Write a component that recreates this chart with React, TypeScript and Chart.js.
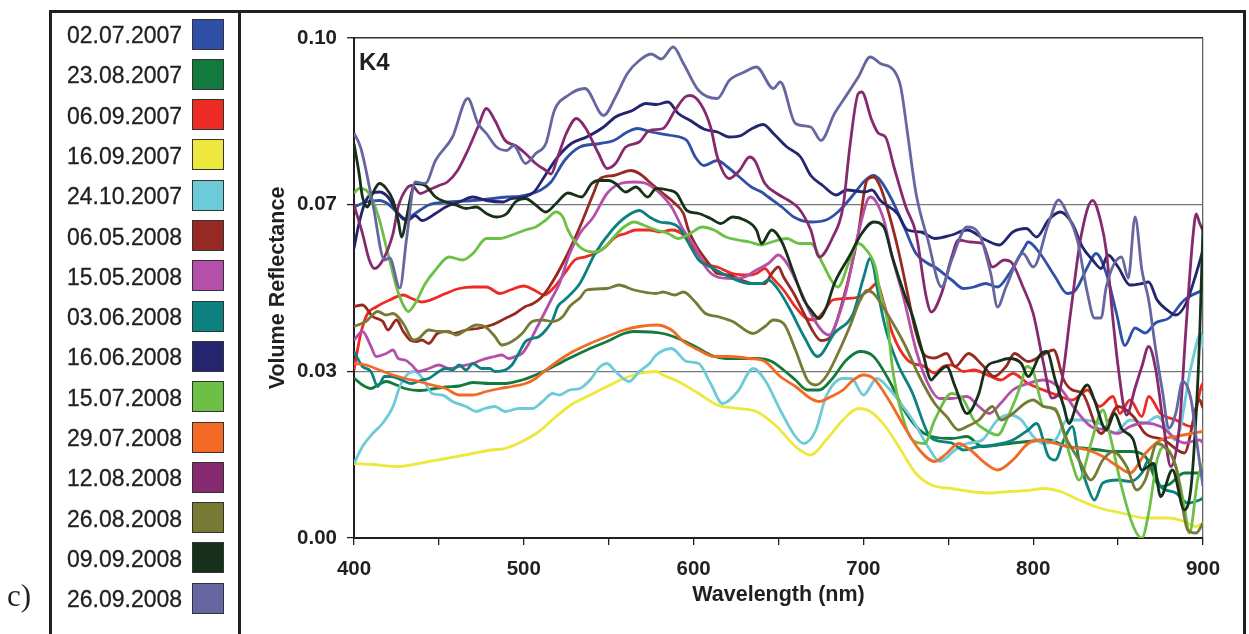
import React, { useEffect, useRef } from "react";
import { Chart, registerables } from "chart.js";

Chart.register(...registerables);

// Legend labels (acquisition dates) and colours
const seriesLabels = [
  "02.07.2007", "23.08.2007", "06.09.2007", "16.09.2007", "24.10.2007",
  "06.05.2008", "15.05.2008", "03.06.2008", "16.06.2008", "15.07.2008",
  "29.07.2008", "12.08.2008", "26.08.2008", "09.09.2008", "26.09.2008",
];
const seriesColors = [
  "#2E50A5", "#127A3C", "#EE2A24", "#EDE83E", "#6DCAD8",
  "#962A22", "#B450AA", "#0D8080", "#24246F", "#6CC046",
  "#F26A24", "#852A6E", "#767A34", "#17301A", "#6667A1",
];

// [wavelength (nm), volume reflectance x 1000]
const r020707 = [[400,66.2],[407,67.2],[415,67.5],[420,66.8],[426,64.9],[430,63.6],[436,64.9],[444,66.6],[454,67.2],[470,67.5],[490,68.2],[500,68.5],[510,69.6],[516,71.2],[524,75.5],[533,78.2],[545,78.9],[553,79.5],[561,81.2],[567,81.9],[575,81.2],[587,80.5],[596,79.5],[601,76.2],[606,74.5],[614,75.5],[620,74.2],[627,72.2],[634,70.2],[640,69.2],[644,68.2],[652,66.2],[659,64.2],[669,63.2],[678,63.6],[685,65.2],[693,68.2],[701,71.5],[706,72.5],[710,71.5],[717,67.5],[724,62.2],[731,56.9],[738,54.9],[742,54.2],[752,51.6],[759,49.9],[765,50.2],[772,50.9],[779,50.2],[786,52.9],[795,58.2],[797,59.2],[804,56.9],[813,52.2],[820,48.9],[825,49.6],[832,54.2],[837,56.9],[843,53],[849,45],[854,38.5],[860,42],[866,41],[872,43],[880,44],[889,47.6],[900,49.6]];
const r230807 = [[400,32],[405,30.6],[410,29.9],[414,30.6],[419,31.3],[425,30.6],[430,29.9],[438,29.5],[446,29.8],[454,30.2],[462,30.4],[470,31.1],[480,30.9],[489,30.9],[499,31.6],[509,32.9],[519,34.6],[529,36.3],[539,37.9],[549,39.3],[559,40.9],[565,41.3],[582,40.9],[591,39.9],[601,38.3],[610,36.6],[619,35.9],[637,35.9],[646,35.3],[653,33.6],[660,31.6],[667,29.6],[674,29.6],[681,31.6],[690,35.6],[698,37.3],[706,36.3],[715,31.6],[724,25.6],[733,21.6],[740,20.3],[752,19.9],[761,20.3],[770,18.3],[779,18.6],[788,19],[797,19.3],[809,19.6],[820,18.3],[829,18],[839,17.6],[848,17.3],[857,17.3],[866,16.3],[875,10.3],[880,10.7],[889,13],[898,13],[900,12.5]];
const r060907 = [[400,33.6],[404,40.9],[408,44.9],[413,46.2],[421,47.6],[429,48.6],[434,47.9],[440,47.2],[445,47.6],[454,48.9],[462,49.9],[470,50.2],[478,50.2],[486,48.9],[492,49.6],[500,50.4],[506,49.6],[512,48.6],[518,50.2],[524,52.9],[530,55.6],[536,56.2],[542,56.9],[548,58.2],[554,60.2],[560,60.9],[566,61.6],[574,61.6],[580,61.2],[587,61.6],[594,60.6],[601,57.5],[607,54.9],[614,54.2],[623,52.9],[633,52.6],[637,52.9],[642,53.9],[646,52.2],[653,49.6],[660,46.2],[666,44],[671,43.6],[676,45],[682,47.6],[690,47.9],[697,48.2],[703,49.5],[708,50.9],[712,47],[717,41],[726,35.6],[736,34.3],[742,33],[747,34.3],[752,34.6],[759,33.3],[765,33.6],[775,32.3],[781,31.6],[788,32.9],[797,30.9],[806,29.6],[816,28.3],[823,27.6],[832,29.6],[839,26.3],[847,28.3],[851,24.9],[857,27.6],[864,24.3],[868,28.3],[875,24.9],[884,23.6],[893,22.3],[899,30.3],[900,31]];
const r160907 = [[400,14.9],[411,14.7],[425,14.3],[438,14.9],[454,15.9],[470,16.9],[481,17.6],[489,17.9],[499,19.3],[509,21.3],[519,24.3],[529,26.9],[539,28.6],[549,30.3],[559,31.9],[568,32.9],[578,33.3],[582,32.6],[591,31.3],[603,28.9],[614,26.6],[626,25.9],[637,25.3],[649,22.3],[660,18.3],[669,16.6],[678,19.6],[688,23.6],[697,25.9],[704,25.3],[713,22.3],[722,17.6],[731,12.9],[740,10.6],[752,9.9],[763,9.3],[775,9],[786,9.3],[797,9.5],[806,9.9],[816,9.3],[827,7.6],[839,6],[852,5],[866,4],[880,4],[889,3.3],[896,2.3],[900,3]];
const r241007 = [[400,14.9],[405,18.3],[411,20.9],[417,23],[423,26.3],[427,30.3],[432,32.9],[436,33.3],[441,31.6],[446,28.9],[452,28.6],[458,27.3],[466,26.3],[472,25.3],[477,25.9],[483,26.3],[489,25.3],[497,25.9],[505,25.9],[511,27.3],[517,28.9],[521,28.6],[527,29.6],[533,29.9],[539,31.6],[545,34.3],[549,34.9],[554,33.3],[562,31.3],[568,33.3],[574,34.9],[578,36.6],[587,37.9],[596,35.3],[603,34.9],[610,30.9],[617,26.9],[626,29.3],[635,33.9],[642,31.6],[651,25.6],[660,20.3],[665,18.9],[672,21.6],[678,28.3],[688,31.9],[693,31.9],[700,28.6],[708,31.9],[715,29.9],[722,26.9],[729,23.6],[738,18.3],[745,15.3],[754,17.6],[761,18.9],[770,19.6],[779,23.6],[786,24.6],[793,23.6],[800,20.3],[806,18.9],[813,19.6],[820,23.6],[829,23.6],[839,22.9],[848,20.9],[857,23.6],[866,23],[873,24.3],[884,19.6],[893,34.3],[899,40.9],[900,38]];
const r060508 = [[400,46.3],[405,46.6],[411,44.3],[417,43.3],[420,41.6],[425,43.6],[429,41.3],[433,39.6],[437,39.3],[440,39.6],[444,38.9],[449,40.9],[454,41.3],[459,40.9],[466,41.6],[473,41.9],[481,42.6],[489,43.9],[495,44.9],[501,46.3],[505,46.8],[510,48],[515,50.2],[524,55.6],[533,62.2],[541,68.9],[545,71.9],[553,72.5],[563,73.5],[568,72.9],[575,70.9],[582,68.9],[589,66.9],[594,64.9],[597,61.6],[602,58.2],[609,54.9],[614,52.9],[621,52.6],[628,51.6],[635,50.9],[642,50.9],[646,52.9],[650,54.2],[653,52.2],[659,48.9],[665,44.9],[670,41.5],[675,39.5],[680,40],[688,47.6],[697,60.9],[702,71.5],[706,72.2],[710,70.2],[715,64.9],[721,56.9],[726,48.9],[731,41],[736,36.6],[742,36],[749,36.9],[754,34.3],[762,36.9],[770,34.6],[777,32.3],[784,34.3],[789,36.9],[797,35.3],[804,36.3],[812,37.6],[818,31.6],[823,29.6],[829,28.9],[840,20.9],[850,26.3],[859,24.3],[866,20.9],[877,19.6],[889,17],[898,27.6],[900,26]];
const r150508 = [[400,39.6],[405,41.3],[410,38.3],[413,36.3],[419,36.9],[423,37.6],[426,35.9],[430,35.6],[434,34.6],[438,33.3],[444,33.9],[450,34.6],[456,33.9],[462,34.3],[470,34.9],[475,35.6],[483,36.3],[487,36.6],[491,35.9],[495,36.3],[499,36.9],[503,38.9],[507,41.6],[512,44.9],[516,47.6],[521,50.9],[527,56.9],[533,60.9],[541,64.2],[549,68.9],[557,70.9],[565,71.2],[572,70.9],[578,69.6],[587,66.2],[594,61.6],[601,58.2],[607,54.2],[614,52.2],[623,51.9],[630,52.2],[637,53.6],[644,54.9],[650,56.6],[655,54.9],[662,50.2],[669,44.9],[676,41.3],[680,40.6],[685,44],[690,49.6],[697,60.9],[704,68.2],[707,67.5],[712,63.6],[717,56.2],[724,47.6],[731,37.6],[738,30.9],[745,27.9],[752,27.9],[761,28.3],[768,26.3],[774,24.9],[781,27],[788,29.6],[797,30.9],[806,31.6],[816,29.9],[825,25.6],[834,22.3],[843,21.6],[850,20.9],[857,22.3],[866,23],[875,22.3],[889,19],[898,19.6],[900,19]];
const r030608 = [[400,37.3],[405,34.3],[410,33.3],[414,30.3],[418,32.3],[422,32.3],[428,31.6],[434,30.9],[440,31.6],[444,31.9],[450,33.3],[454,33.9],[458,33.6],[462,34.6],[466,33.6],[470,34.9],[475,33.9],[480,33.9],[483,33.3],[489,33.6],[493,34.6],[497,36.9],[501,39.3],[505,39.9],[509,40.3],[513,41.6],[517,43.6],[520,46.3],[524,47.6],[533,50.9],[542,56.9],[552,61.6],[560,64.2],[568,65.5],[574,64.2],[580,63.2],[587,62.9],[591,62.2],[596,59.6],[603,55.6],[610,54.2],[617,52.9],[623,51.9],[633,50.9],[640,50.9],[644,51.6],[650,49.6],[657,45.6],[665,40.3],[673,36.3],[683,41],[694,44.9],[700,52],[704,55.9],[706,54.2],[708,50.2],[713,42],[720,35],[729,28.9],[738,20.9],[742,19.6],[752,19],[759,17.6],[768,18.3],[777,18.6],[788,19.6],[797,21.6],[802,22.9],[809,16.3],[813,15.6],[818,19.6],[823,22.3],[827,15.6],[832,10.3],[836,7.6],[841,11],[850,11.6],[857,11.3],[864,13],[868,15.6],[875,10.3],[884,9],[891,7],[898,7.6],[900,8]];
const r160608 = [[400,57.9],[403,63],[407,67.5],[415,69.2],[420,68.2],[426,64.9],[432,63.6],[436,64.5],[440,63.5],[448,64.9],[454,66.2],[462,67.2],[470,68.2],[478,67.5],[488,67.2],[492,67.8],[500,68.2],[506,69.2],[512,72.2],[520,76.2],[528,78.9],[537,80.2],[547,82.2],[554,84.2],[564,85.5],[572,86.9],[578,86.7],[585,87.2],[591,84.9],[598,83.5],[606,81.8],[614,81.2],[621,80.2],[628,80.5],[634,81.8],[641,82.7],[647,80.9],[655,78.2],[663,76.2],[669,72.5],[676,70.5],[684,68.6],[690,69.6],[701,69.2],[705,69.6],[710,67.5],[720,64.9],[726,61.6],[734,61.2],[742,59.9],[752,60.6],[761,61.6],[772,59.6],[780,58.6],[788,61.2],[796,61.9],[802,60.2],[809,63.6],[816,65.2],[823,62.9],[829,58.2],[835,55.6],[840,53.9],[844,56.6],[850,54.2],[857,50.6],[864,50.9],[868,51.2],[873,47.6],[880,45.3],[884,44.6],[890,46.9],[896,52.9],[900,57.6]];
const r150708 = [[400,68.9],[403,69.9],[407,69.6],[411,67.5],[415,63.6],[419,58.2],[422,54.2],[425,50.2],[429,46.6],[432,45.3],[436,46.9],[442,50.9],[448,53.6],[456,56.2],[464,55.6],[470,56.9],[478,59.9],[486,59.9],[493,60.6],[501,61.6],[507,62.2],[513,63.6],[519,65.2],[523,64.2],[526,61.6],[533,58.2],[541,57.2],[547,57.9],[553,60.2],[559,62.2],[565,63.2],[571,62.5],[578,61.6],[585,60.9],[591,59.9],[598,60.9],[605,62.2],[612,61.6],[619,60.2],[626,59.6],[633,59.2],[640,58.6],[646,59.2],[655,59.9],[662,58.9],[669,58.9],[676,54.9],[681,51.6],[685,50.2],[692,55.6],[697,58.9],[701,57.9],[707,54.2],[710,48.9],[714,43.6],[717,34.3],[722,25.6],[729,19.6],[736,18.9],[742,23.6],[752,28.9],[759,27.6],[765,23.6],[772,21.6],[779,20.6],[786,24.9],[793,30.9],[796,34.3],[800,33.3],[806,26.3],[813,25.9],[818,20.9],[823,14.9],[827,11.6],[834,18.9],[841,25.6],[845,20.9],[852,10.3],[859,2.3],[864,0],[868,5],[873,15.6],[877,18.3],[884,14.3],[889,6.3],[892,1],[897,12],[900,15]];
const r290708 = [[400,34.9],[407,34.6],[415,33.6],[423,32.6],[430,31.9],[438,31.3],[446,30.6],[454,29.9],[462,28.6],[470,28.6],[478,29.3],[486,29.9],[493,30.3],[501,30.9],[507,31.9],[513,33.6],[521,35.6],[529,37.3],[539,38.9],[549,40.3],[559,41.6],[568,42.3],[578,42.6],[587,41.6],[594,39.3],[603,37.6],[612,36.3],[621,36.3],[633,35.9],[642,35.3],[651,32.3],[660,30.3],[669,27.9],[674,27.3],[681,28.3],[688,29.6],[694,31.6],[700,32.6],[706,31.9],[715,27.6],[724,22.3],[733,17.6],[742,15.3],[749,16.9],[756,18.9],[763,17.6],[772,14.9],[779,13.6],[788,15.6],[797,18.9],[804,19.6],[813,18.9],[820,18.3],[832,17.6],[841,16.3],[850,14.3],[857,13],[866,16.9],[875,19.6],[884,20.3],[893,20.9],[900,21.3]];
const r120808 = [[400,66.6],[405,60.9],[409,55.6],[412,53.9],[417,55.6],[423,60.9],[426,66.2],[431,69.9],[434,70.5],[439,68.9],[444,69.6],[450,70.5],[455,71.2],[461,73.5],[467,77.5],[473,82.2],[478,85.9],[483,83.5],[489,79.5],[495,78.5],[501,76.9],[507,74.9],[513,73.5],[516,72.8],[520,76.2],[525,80.9],[531,83.9],[536,82.2],[544,76.9],[549,73.9],[554,74.9],[560,78.2],[568,79.2],[574,81.5],[582,81.9],[589,85.5],[595,88.2],[598,88.5],[604,86.9],[610,82.2],[614,76.2],[621,71.9],[627,73.5],[633,76.2],[636,75.5],[642,70.9],[649,68.9],[656,67.5],[662,65.9],[669,61.6],[674,56.2],[682,60.2],[688,66.2],[692,78.2],[697,88.9],[699,89.2],[705,83.5],[709,80.9],[713,80.2],[718,74.2],[725,66.2],[731,60.9],[737,48.2],[740,45.2],[746,48.9],[752,56.2],[756,59.6],[763,59.2],[770,58.9],[776,54.2],[783,55.6],[787,55.2],[794,50.2],[800,44.9],[806,35],[811,28],[816,30],[822,45],[828,60],[835,67.5],[840,63],[843,57.5],[847,43.6],[850,34.3],[855,24.6],[860,30],[864,34.3],[868,38.3],[872,34],[877,22],[881,14.3],[886,22],[890,42],[894,60],[896,64.8],[898,63],[900,61.5]];
const r260808 = [[400,42.3],[407,43.3],[414,45.3],[419,44.6],[423,44.9],[429,42.9],[435,39.6],[438,39.9],[444,41.6],[450,41.3],[456,41.3],[460,40.6],[466,41.6],[472,42.6],[477,42.3],[483,40.3],[487,38.6],[493,39.3],[499,40.9],[505,43.3],[511,43.6],[517,43.3],[523,44.3],[527,46.3],[533,48],[537,49.6],[549,49.9],[556,50.6],[565,49.6],[578,48.9],[582,49.2],[589,48.6],[594,49.2],[601,47.2],[607,44.9],[614,44.3],[623,43.3],[635,40.9],[642,42.3],[647,43.6],[653,42.9],[660,37.6],[667,31.6],[672,30.6],[678,32.3],[685,36.9],[692,42.3],[698,47.5],[702,49.5],[706,48.9],[715,44.3],[724,38.9],[733,32.3],[742,26.9],[749,24.3],[756,21.6],[761,22.3],[768,23.6],[776,26.3],[781,23.6],[788,24.9],[795,26.9],[800,27.6],[806,26.3],[813,25.6],[820,19.6],[827,15.6],[834,11.6],[841,15.6],[847,17.3],[855,14.3],[861,9.6],[866,11.6],[873,18.9],[877,18.3],[884,14.3],[891,1.6],[896,1],[900,3]];
const r090908 = [[400,78.9],[403,72.9],[405,68.2],[408,66.2],[411,68.9],[415,70.9],[419,69.9],[423,67.5],[426,63.6],[428,60.2],[431,64.2],[434,69.2],[436,70.9],[442,70.5],[448,68.2],[454,67.2],[460,66.6],[466,65.9],[472,66.2],[478,64.9],[484,64.2],[490,64.9],[495,67.2],[501,67.9],[507,66.6],[513,65.2],[519,66.9],[526,69],[534,68.2],[540,70.9],[544,71.5],[550,71.5],[554,70.9],[560,69.2],[566,70.2],[573,68.2],[578,69.9],[585,69.6],[590,68.9],[596,65.5],[603,64.9],[610,63.9],[616,62.9],[623,64.2],[630,63.6],[637,61.6],[640,58.9],[646,61.6],[652,59.2],[659,52.9],[665,47.6],[669,45.6],[674,43.9],[678,46],[683,51],[692,56.5],[699,60.9],[706,63.2],[712,62.2],[717,56.2],[724,48.9],[729,44.3],[735,37],[740,31.6],[742,32.3],[749,34.3],[754,30.3],[761,24.9],[768,28.9],[772,33.9],[779,35.3],[786,35.9],[793,34.9],[797,32.3],[804,36.6],[808,37.3],[813,31.6],[818,26.3],[821,22.9],[827,28.3],[832,30.6],[836,27.6],[843,21.6],[848,24.9],[852,21.9],[859,19.6],[864,13.6],[871,14.9],[875,8.3],[882,13.6],[889,5.6],[893,10.3],[896,25],[898,40],[900,62.5]];
const r260908 = [[400,81],[404,78],[411,67],[418,55.6],[421,56],[427,50],[431,60],[436,71.2],[442,70.9],[448,75.5],[458,80.2],[467,87.9],[473,82.9],[478,80.9],[484,78.2],[490,77.5],[494,78.5],[501,74.9],[507,76.9],[513,78.9],[518,85.5],[526,88.5],[536,89.9],[547,84.5],[554,88.2],[561,92.9],[568,95.5],[575,96.8],[581,95.8],[588,98.2],[594,94.9],[603,89.5],[614,87.9],[621,91.5],[630,93.2],[637,94.2],[647,89.9],[651,91.2],[660,82.9],[669,82.2],[675,79.5],[683,84.9],[688,87.5],[697,92.2],[704,96.2],[710,94.9],[718,93.5],[722,90.2],[726,80.9],[731,68.9],[738,59.6],[746,50.2],[752,55.6],[761,62.2],[768,60.9],[775,52.9],[779,46.2],[784,50.2],[794,56.9],[800,54.2],[809,62.9],[815,67.6],[820,64.9],[826,59.6],[832,48.9],[836,44],[840,44],[843,50.2],[852,56.2],[856,52],[860,64.2],[864,53.6],[868,47.6],[872,38],[876,29.6],[880,22],[884,25],[888,31.3],[893,27.6],[896,20],[900,10.3]];

const seriesPoints = [
  r020707, r230807, r060907, r160907, r241007,
  r060508, r150508, r030608, r160608, r150708,
  r290708, r120808, r260808, r090908, r260908,
];

const xTickLabels = [400, 500, 600, 700, 800, 900];
const yTickLabels = ["0.00", "0.03", "0.07", "0.10"];

const SANS = '"Liberation Sans", Arial, Helvetica, sans-serif';
const INK = "#231f20";

export default function App() {
  const canvasRef = useRef<HTMLCanvasElement | null>(null);

  useEffect(() => {
    const canvas = canvasRef.current;
    if (!canvas) return;
    const tickFont = { family: SANS, size: 20.5, weight: "bold" as const };
    const titleFont = { family: SANS, size: 21.5, weight: "bold" as const };
    const chart = new Chart(canvas, {
      type: "line",
      data: {
        datasets: seriesPoints.map((pts, i) => ({
          label: seriesLabels[i],
          data: pts.map(([x, y]) => ({ x, y: y / 1000 })),
          borderColor: seriesColors[i],
          backgroundColor: seriesColors[i],
          borderWidth: 2.8,
          pointRadius: 0,
          fill: false,
          cubicInterpolationMode: "monotone" as const,
          order: seriesPoints.length - 1 - i,
        })),
      },
      options: {
        responsive: false,
        animation: false,
        devicePixelRatio: 1,
        events: [],
        layout: { padding: { left: 265, top: 38, right: 46, bottom: 26 } },
        plugins: { legend: { display: false }, tooltip: { enabled: false }, title: { display: false } },
        scales: {
          x: {
            type: "linear",
            min: 400,
            max: 900,
            afterFit: (s: any) => { s.height = 70; },
            ticks: {
              stepSize: 50,
              autoSkip: false,
              maxRotation: 0,
              padding: 12,
              color: INK,
              font: tickFont,
              callback: (v: any) => (xTickLabels.includes(Number(v)) ? String(v) : ""),
            },
            grid: {
              color: (c: any) => (c.tick && c.tick.value === 900 ? "#666" : "rgba(0,0,0,0)"),
              tickColor: INK,
              tickLength: 7,
              lineWidth: 1.3,
              tickWidth: 1.3,
            },
            border: { display: true, color: INK, width: 2 },
            title: { display: true, text: "Wavelength (nm)", color: INK, font: titleFont, padding: 0 },
          },
          y: {
            type: "linear",
            min: 0,
            max: 0.1,
            afterFit: (s: any) => { s.width = 89; },
            ticks: {
              count: 4,
              padding: 10,
              color: INK,
              font: tickFont,
              callback: (_v: any, idx: number) => yTickLabels[idx],
            },
            grid: {
              color: (c: any) => (c.index === 3 ? "#333" : c.index === 0 ? "rgba(0,0,0,0)" : "#777"),
              lineWidth: (c: any) => (c.index === 3 ? 1.5 : 1.2),
              tickColor: INK,
              tickLength: 7,
              tickWidth: 1.3,
            },
            border: { display: true, color: INK, width: 2 },
            title: { display: true, text: "Volume Reflectance", color: INK, font: titleFont, padding: 0 },
          },
        },
      },
    });
    return () => chart.destroy();
  }, []);

  const rowY = (i: number) => 35 + i * 40.3;

  return (
    <div style={{ position: "fixed", left: 0, top: 0, width: 1249, height: 634, background: "#fff", overflow: "hidden" }}>
      <canvas ref={canvasRef} width={1249} height={634} style={{ position: "absolute", left: 0, top: 0, width: 1249, height: 634 }} />
      {/* outer frame (no bottom edge) */}
      <div style={{ position: "absolute", left: 49, top: 10, width: 1191, height: 640, borderLeft: "3px solid #231f20", borderTop: "3px solid #231f20", borderRight: "3px solid #231f20" }} />
      <div style={{ position: "absolute", left: 238, top: 10, width: 3, height: 640, background: "#231f20" }} />
      {seriesLabels.map((lab, i) => (
        <React.Fragment key={lab}>
          <div style={{ position: "absolute", left: 67, top: rowY(i) - 15, height: 30, lineHeight: "30px", fontFamily: SANS, fontSize: 23, color: INK, whiteSpace: "nowrap", WebkitTextStroke: "0.3px #231f20" }}>{lab}</div>
          <div style={{ position: "absolute", left: 192, top: rowY(i) - 16.5, width: 32, height: 31, boxSizing: "border-box", border: "1px solid #333", background: seriesColors[i] }} />
        </React.Fragment>
      ))}
      <div style={{ position: "absolute", left: 7, top: 580, height: 31, lineHeight: "31px", fontFamily: '"Liberation Serif", "Times New Roman", serif', fontSize: 31, color: INK }}>c)</div>
      <div style={{ position: "absolute", left: 359, top: 50, height: 24, lineHeight: "24px", fontFamily: SANS, fontSize: 24, fontWeight: "bold", color: INK }}>K4</div>
    </div>
  );
}
